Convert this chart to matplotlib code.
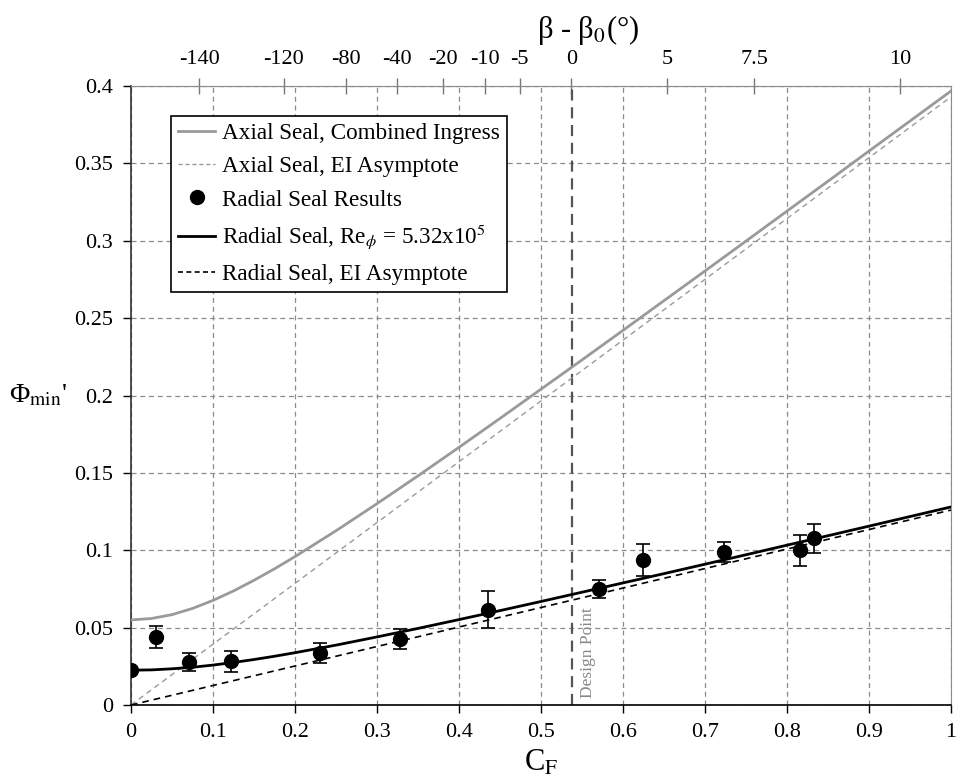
import matplotlib
matplotlib.use("Agg")
import matplotlib.pyplot as plt
from matplotlib.lines import Line2D

plt.rcParams['font.family'] = ['Liberation Serif', 'DejaVu Serif']
plt.rcParams['mathtext.fontset'] = 'stix'

# curves (C_F vs Phi_min')
cf_curve = [0, 0.025, 0.05, 0.075, 0.1, 0.125, 0.15, 0.175, 0.2, 0.25, 0.3, 0.35, 0.4,
            0.45, 0.5, 0.55, 0.6, 0.65, 0.7, 0.75, 0.8, 0.85, 0.9, 0.95, 1.0]
axial_combined = [0.055, 0.0559, 0.0584, 0.0624, 0.0676, 0.0737, 0.0806, 0.0880,
                  0.0959, 0.1126, 0.1301, 0.1481, 0.1665, 0.1852, 0.2041, 0.2230,
                  0.2421, 0.2613, 0.2805, 0.2998, 0.3192, 0.3385, 0.3580, 0.3774, 0.3968]
radial_combined = [0.0225, 0.0227, 0.0234, 0.0244, 0.0258, 0.0275, 0.0294, 0.0315,
                   0.0338, 0.0387, 0.0440, 0.0495, 0.0552, 0.0610, 0.0669, 0.0729,
                   0.0789, 0.0849, 0.0910, 0.0971, 0.1033, 0.1094, 0.1156, 0.1218, 0.1280]
cf_asym = [0, 1.0]
axial_asym = [0, 0.393]
radial_asym = [0, 0.126]

# radial seal experimental results
cf_res = [0.0, 0.030, 0.071, 0.122, 0.231, 0.328, 0.436, 0.571, 0.624, 0.723, 0.816, 0.833]
phi_res = [0.0226, 0.0441, 0.0278, 0.0282, 0.0334, 0.0426, 0.0615, 0.0749, 0.0936, 0.0988, 0.1001, 0.1077]
phi_err = [0.0, 0.007, 0.006, 0.007, 0.0065, 0.0065, 0.012, 0.006, 0.0105, 0.0065, 0.010, 0.0095]

# top axis: beta - beta0 in degrees at C_F positions
top_pos = [0.0834, 0.1864, 0.2625, 0.3244, 0.380, 0.432, 0.474, 0.537, 0.654, 0.760, 0.938]
top_labels = ['-140', '-120', '-80', '-40', '-20', '-10', '-5', '0', '5', '7.5', '10']
design_cf = 0.538

fig = plt.figure(figsize=(9.58, 7.83), dpi=100)
ax = fig.add_axes([0.1367, 0.0996, 0.856, 0.7905])

grey = '#8c8c8c'
ax.plot(cf_curve, axial_combined, color='#9a9a9a', lw=2, zorder=3)
ax.plot(cf_asym, axial_asym, color='#9a9a9a', lw=1, ls=(0, (4, 3)), zorder=3)
ax.plot(cf_curve, radial_combined, color='black', lw=2, zorder=4)
ax.plot(cf_asym, radial_asym, color='black', lw=1.2, ls=(0, (4, 3)), zorder=4)
ax.errorbar(cf_res, phi_res, yerr=phi_err, fmt='o', color='black', ms=10,
            ecolor='black', elinewidth=1.2, capsize=5, capthick=1.2, zorder=5)

ax.axvline(design_cf, color='#555555', lw=1.6, ls=(0, (5, 3)), zorder=2)
ax.text(design_cf + 0.019, 0.034, 'Design Point', rotation=90, color='#888888',
        fontsize=12.5, ha='center', va='center')

ax.set_xlim(0, 1)
ax.set_ylim(0, 0.4)
ax.set_xticks([i / 10 for i in range(11)])
ax.set_xticklabels(['0', '0.1', '0.2', '0.3', '0.4', '0.5', '0.6', '0.7', '0.8', '0.9', '1'])
ax.set_yticks([i * 0.05 for i in range(9)])
ax.set_yticklabels(['0', '0.05', '0.1', '0.15', '0.2', '0.25', '0.3', '0.35', '0.4'])
ax.tick_params(axis='both', labelsize=16, direction='out', length=6, width=1, pad=7)
ax.grid(True, color=grey, ls=(0, (4, 3)), lw=0.9)
ax.set_axisbelow(True)

ax.spines['left'].set_color('#333333')
ax.spines['bottom'].set_color('black')
ax.spines['right'].set_color(grey)
ax.spines['top'].set_color(grey)
ax.spines['left'].set_linewidth(1.2)
ax.spines['bottom'].set_linewidth(1.2)

ax.set_xlabel('C$_\\mathrm{F}$', fontsize=22, labelpad=5)
ax.set_ylabel("Φ$_\\mathrm{min}$'", fontsize=20, rotation=0, va='center')
ax.yaxis.set_label_coords(-0.113, 0.5)

top = ax.secondary_xaxis('top')
top.set_xticks(top_pos)
top.set_xticklabels(top_labels)
top.tick_params(direction='inout', length=12, width=1, color='#777777', labelsize=16, pad=6)
top.spines['top'].set_color(grey)
ax.text(0.557, 1.09, 'β - β$_0$(°)', transform=ax.transAxes, fontsize=22,
        ha='center', va='center')

handles = [
    Line2D([], [], color='#9a9a9a', lw=2),
    Line2D([], [], color='#9a9a9a', lw=1, ls=(0, (3, 2))),
    Line2D([], [], color='black', marker='o', ls='none', ms=10),
    Line2D([], [], color='black', lw=2),
    Line2D([], [], color='black', lw=1.2, ls=(0, (3, 2))),
]
labels = ['Axial Seal, Combined Ingress', 'Axial Seal, EI Asymptote',
          'Radial Seal Results', 'Radial Seal, Re$_\\phi$ = 5.32x10$^5$',
          'Radial Seal, EI Asymptote']
leg = ax.legend(handles, labels, loc='upper left', bbox_to_anchor=(0.049, 0.952),
                fontsize=16.7, frameon=True, fancybox=False, borderaxespad=0,
                handlelength=1.6, handletextpad=0.3, labelspacing=0.52,
                borderpad=0.3)
leg.get_frame().set_edgecolor('black')
leg.get_frame().set_linewidth(1.2)
leg.get_frame().set_alpha(1)
leg.set_zorder(10)

fig.savefig('out.png', dpi=100)
